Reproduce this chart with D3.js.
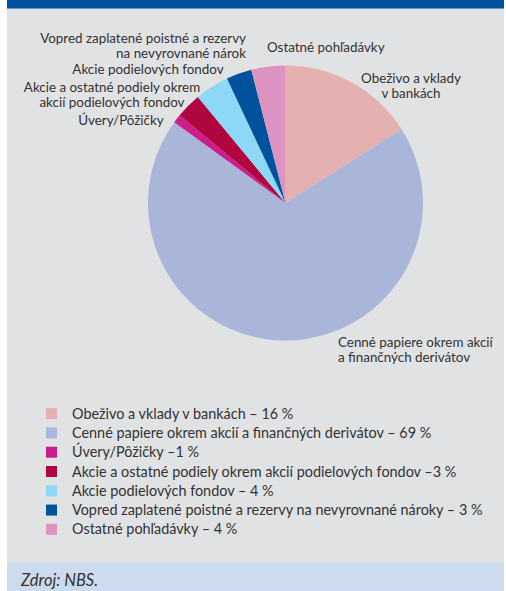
<!DOCTYPE html>
<html><head><meta charset="utf-8">
<script src="https://cdn.jsdelivr.net/npm/d3@7"></script>
<style>html,body{margin:0;padding:0;background:#fff}svg{display:block}</style>
</head><body><svg id="c" width="506" height="591"></svg>
<script>
const categories = [
  "Obeživo a vklady v bankách",
  "Cenné papiere okrem akcií a finančných derivátov",
  "Úvery/Pôžičky",
  "Akcie a ostatné podiely okrem akcií podielových fondov",
  "Akcie podielových fondov",
  "Vopred zaplatené poistné a rezervy na nevyrovnané nároky",
  "Ostatné pohľadávky"
];
const values = [16, 69, 1, 3, 4, 3, 4];
const colors = ["#e5b0b0", "#a9b5d9", "#cb1d8d", "#b0063f", "#8dd8f6", "#00529c", "#dc93c2"];
const legendLabels = [
  "Obeživo a vklady v bankách – 16 %",
  "Cenné papiere okrem akcií a finančných derivátov – 69 %",
  "Úvery/Pôžičky –1 %",
  "Akcie a ostatné podiely okrem akcií podielových fondov –3 %",
  "Akcie podielových fondov – 4 %",
  "Vopred zaplatené poistné a rezervy na nevyrovnané nároky – 3 %",
  "Ostatné pohľadávky – 4 %"
];
const sliceLabels = [
  {lines:["Obeživo a vklady","v bankách"], x:411, y:83, anchor:"middle"},
  {lines:["Cenné papiere okrem akcií","a finančných derivátov"], x:338, y:347, anchor:"start"},
  {lines:["Úvery/Pôžičky"], x:121, y:125, anchor:"middle"},
  {lines:["Akcie a ostatné podiely okrem","akcií podielových fondov"], x:112, y:92, anchor:"middle"},
  {lines:["Akcie podielových fondov"], x:148, y:74, anchor:"middle"},
  {lines:["Vopred zaplatené poistné a rezervy","na nevyrovnané nárok"], x:246, y:43, anchor:"end"},
  {lines:["Ostatné pohľadávky"], x:267, y:52, anchor:"start"}
];
const source = "Zdroj: NBS.";

const svg = d3.select("#c");
const W = 506, H = 591;
const font = "Lato, 'Open Sans', sans-serif";

svg.append("rect").attr("x",0).attr("y",0).attr("width",W).attr("height",H).attr("fill","#ffffff");
svg.append("rect").attr("x",7).attr("y",0).attr("width",497).attr("height",H).attr("fill","#e1e2e4");
svg.append("rect").attr("x",7).attr("y",0).attr("width",497).attr("height",8.5).attr("fill","#00529c");
svg.append("rect").attr("x",7).attr("y",562.5).attr("width",497).attr("height",H-562.5).attr("fill","#ccdcee");

const cx = 285.5, cy = 203, R = 137.5;
const pie = d3.pie().sort(null).value(d => d)(values);
const arc = d3.arc().innerRadius(0).outerRadius(R);
const g = svg.append("g").attr("transform",`translate(${cx},${cy})`);
g.selectAll("path").data(pie).join("path")
  .attr("d", arc)
  .attr("fill", (d,i) => colors[i]);

const lab = svg.append("g").attr("font-family", font).attr("font-size", 13.4).attr("fill", "#333");
sliceLabels.forEach(l => {
  const t = lab.append("text").attr("text-anchor", l.anchor);
  l.lines.forEach((s, j) => {
    t.append("tspan").attr("x", l.x).attr("y", l.y + j*15).text(s);
  });
});

const ly = d3.scaleBand().domain(categories).range([404, 539]);
const leg = svg.append("g").attr("font-family", font).attr("font-size", 14.4).attr("fill", "#333");
categories.forEach((c, i) => {
  const y = ly(c) + ly.bandwidth()/2;
  leg.append("rect").attr("x", 46).attr("y", y - 5.5).attr("width", 11).attr("height", 11).attr("fill", colors[i]);
  leg.append("text").attr("x", 72).attr("y", y + 5).text(legendLabels[i]);
});

svg.append("text").attr("x", 21).attr("y", 586).attr("font-family", font).attr("font-style","italic")
  .attr("font-size", 16.5).attr("fill", "#333").text(source);
</script></body></html>
